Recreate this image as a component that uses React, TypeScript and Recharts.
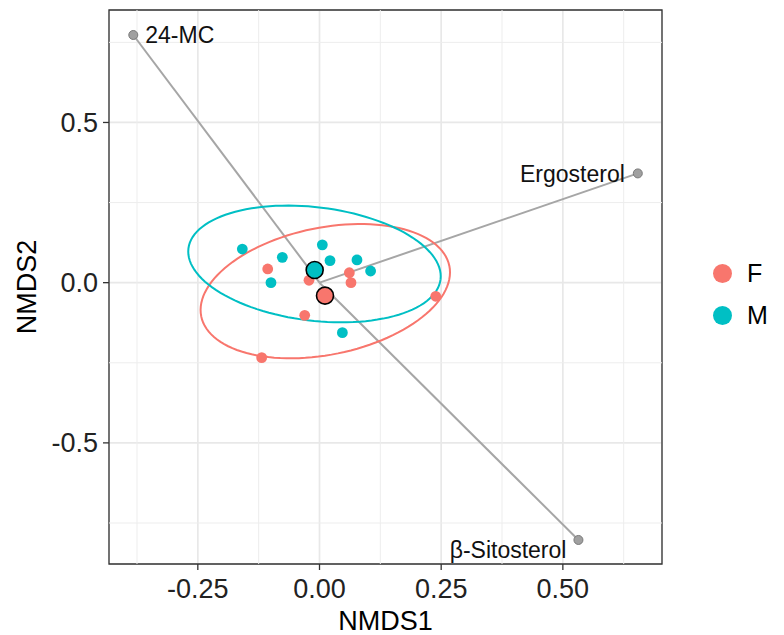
import React from 'react';
import { ScatterChart, Scatter, XAxis, YAxis, CartesianGrid, ReferenceLine, ReferenceArea, Label } from 'recharts';

const groups = ['F', 'M'];
const groupColors = ['#F8766D', '#00BFC4'];

const fX = [-0.1064, -0.0216, 0.0613, 0.0647, -0.0304, -0.1188, 0.2388];
const fY = [0.0428, 0.0075, 0.031, 0.0, -0.102, -0.234, -0.0425];
const mX = [-0.1586, -0.0764, 0.0058, 0.0216, 0.077, 0.105, -0.0997, 0.047];
const mY = [0.105, 0.079, 0.118, 0.069, 0.071, 0.0365, 0.0, -0.156];
const centroidX = [0.0113, -0.0099];
const centroidY = [-0.0405, 0.0396];

const vectorNames = ['24-MC', 'Ergosterol', 'β-Sitosterol'];
const vectorX = [-0.3826, 0.654, 0.532];
const vectorY = [0.773, 0.341, -0.803];

// 95% ellipses (F, M): centre and axis coefficients in data units
const ellCX = [0.0119, -0.0103];
const ellCY = [-0.0265, 0.0584];
const ellXc = [0.2549, 0.259];
const ellXs = [0.026, -0.0142];
const ellYc = [0.0788, -0.0483];
const ellYs = [-0.1942, -0.1757];

const xTicks = [-0.25, 0, 0.25, 0.5];
const yTicks = [-0.5, 0, 0.5];
const xMinor = [-0.375, -0.125, 0.125, 0.375, 0.625];
const yMinor = [-0.75, -0.25, 0.25, 0.75];
const XMIN = -0.4325, XMAX = 0.7037, YMIN = -0.878, YMAX = 0.851;

const FONT = '"Liberation Sans", Arial, sans-serif';

const zip = (xs: number[], ys: number[]) => xs.map((x, i) => ({ x, y: ys[i] }));
const ellipse = (g: number) => {
  const pts = [];
  const n = 120;
  for (let k = 0; k <= n; k++) {
    const t = (2 * Math.PI * k) / n;
    pts.push({
      x: ellCX[g] + ellXc[g] * Math.cos(t) + ellXs[g] * Math.sin(t),
      y: ellCY[g] + ellYc[g] * Math.cos(t) + ellYs[g] * Math.sin(t),
    });
  }
  return pts;
};

const pointSets = [zip(fX, fY), zip(mX, mY)];
const vectors = vectorNames.map((name, i) => ({ name, x: vectorX[i], y: vectorY[i] }));
const labelPlace: Record<string, { dx: number; dy: number; anchor: 'start' | 'end' }> = {
  '24-MC': { dx: 12, dy: 0, anchor: 'start' },
  Ergosterol: { dx: -13, dy: 1, anchor: 'end' },
  'β-Sitosterol': { dx: -12, dy: 10, anchor: 'end' },
};

const Dot = (r: number, fill: string, stroke?: string) => (props: any) => (
  <circle cx={props.cx} cy={props.cy} r={r} fill={fill} stroke={stroke || 'none'} strokeWidth={stroke ? 1.6 : 0} />
);

const VectorEnd = (props: any) => {
  const p = labelPlace[props.payload.name];
  return (
    <g>
      <circle cx={props.cx} cy={props.cy} r={4.5} fill="#A0A0A0" stroke="#7A7A7A" strokeWidth={1} />
      <text x={props.cx + p.dx} y={props.cy + p.dy} textAnchor={p.anchor} dominantBaseline="central"
        fontFamily={FONT} fontSize={23} fill="#111">{props.payload.name}</text>
    </g>
  );
};

const YTitle = (props: any) => {
  const vb = props.viewBox;
  const x = vb.x + 27;
  const y = vb.y + vb.height / 2;
  return (
    <text x={x} y={y} transform={`rotate(-90 ${x} ${y})`} textAnchor="middle" dominantBaseline="central"
      fontFamily={FONT} fontSize={27} fill="#000">NMDS2</text>
  );
};
const XTitle = (props: any) => {
  const vb = props.viewBox;
  const x = vb.x + vb.width / 2;
  const y = vb.y + 57;
  return (
    <text x={x} y={y} textAnchor="middle" dominantBaseline="central" fontFamily={FONT} fontSize={27} fill="#000">NMDS1</text>
  );
};

const fmtX = (v: number) => v.toFixed(2);
const fmtY = (v: number) => v.toFixed(1);

export default function App() {
  return (
    <div style={{ position: 'absolute', left: 0, top: 0, width: 784, height: 635, background: '#fff' }}>
      <ScatterChart width={784} height={635} margin={{ top: 10, right: 122, bottom: 0, left: 0 }}>
        <CartesianGrid stroke="#E8E8E8" strokeWidth={1.7} />
        {xMinor.map((v) => (
          <ReferenceLine key={'xm' + v} x={v} stroke="#EDEDED" strokeWidth={1} />
        ))}
        {yMinor.map((v) => (
          <ReferenceLine key={'ym' + v} y={v} stroke="#EDEDED" strokeWidth={1} />
        ))}
        <XAxis type="number" dataKey="x" domain={[XMIN, XMAX]} ticks={xTicks} allowDataOverflow height={71}
          tickFormatter={fmtX} tickSize={6} tickMargin={9} axisLine={false} tickLine={{ stroke: '#333', strokeWidth: 1.3 }}
          tick={{ fontFamily: FONT, fontSize: 27, fill: '#222' }} interval={0}>
          <Label content={XTitle} />
        </XAxis>
        <YAxis type="number" dataKey="y" domain={[YMIN, YMAX]} ticks={yTicks} allowDataOverflow width={109}
          tickFormatter={fmtY} tickSize={6} tickMargin={5} axisLine={false} tickLine={{ stroke: '#333', strokeWidth: 1.3 }}
          tick={{ fontFamily: FONT, fontSize: 27, fill: '#222' }} interval={0}>
          <Label content={YTitle} />
        </YAxis>
        {groups.map((g, i) => (
          <Scatter key={'ell' + g} data={ellipse(i)} line={{ stroke: groupColors[i], strokeWidth: 2 }}
            shape={() => <g />} isAnimationActive={false} />
        ))}
        {vectors.map((v) => (
          <ReferenceLine key={'seg' + v.name} segment={[{ x: 0, y: 0 }, { x: v.x, y: v.y }]}
            stroke="#A6A6A6" strokeWidth={2} ifOverflow="visible" />
        ))}
        {groups.map((g, i) => (
          <Scatter key={'pts' + g} data={pointSets[i]} shape={Dot(5.4, groupColors[i])} isAnimationActive={false} />
        ))}
        {groups.map((g, i) => (
          <Scatter key={'cen' + g} data={[{ x: centroidX[i], y: centroidY[i] }]}
            shape={Dot(8.5, groupColors[i], '#000')} isAnimationActive={false} />
        ))}
        <Scatter data={vectors} shape={VectorEnd} isAnimationActive={false} />
        <ReferenceArea x1={XMIN} x2={XMAX} y1={YMIN} y2={YMAX} fill="none" stroke="#333" strokeWidth={1.3} ifOverflow="visible" />
      </ScatterChart>
      {groups.map((g, i) => (
        <div key={'leg' + g} style={{ position: 'absolute', left: 713, top: 262 + i * 42, height: 22, display: 'flex', alignItems: 'center' }}>
          <div style={{ width: 19, height: 19, borderRadius: '50%', background: groupColors[i] }} />
          <span style={{ marginLeft: 15, fontFamily: FONT, fontSize: 25, color: '#000', lineHeight: '22px' }}>{g}</span>
        </div>
      ))}
    </div>
  );
}
